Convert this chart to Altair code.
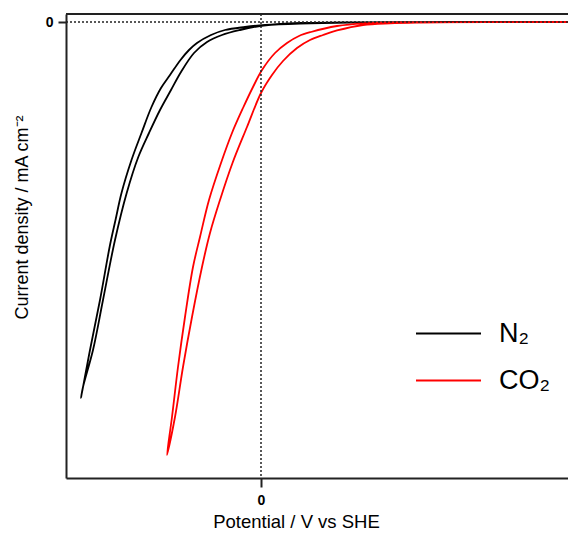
import altair as alt
import pandas as pd

# N2 voltammogram: outer sweep (down) and inner sweep (return); potential V vs SHE, current mA cm-2
n2_out_v = [1.535, 0.945, 0.445, 0.195, 0.02, -0.08, -0.18, -0.25, -0.32, -0.36, -0.4025, -0.455, -0.50,
            -0.5475, -0.5975, -0.6475, -0.6975, -0.7275, -0.755, -0.805, -0.855, -0.90]
n2_out_j = [0.0, 0.0, -0.00625, -0.01875, -0.0375, -0.0625, -0.10, -0.1625, -0.2625, -0.35, -0.475, -0.6625, -0.825,
            -1.0625, -1.3875, -1.725, -2.1375, -2.475, -2.7875, -3.475, -4.10, -4.70]
n2_in_v = [-0.89, -0.84, -0.79, -0.73, -0.6715, -0.6135, -0.56, -0.505, -0.45, -0.40, -0.335, -0.27, -0.195,
           -0.105, -0.005, 0.095, 0.195, 0.445, 0.945, 1.535]
n2_in_j = [-4.5625, -4.10, -3.475, -2.725, -2.1375, -1.6875, -1.3875, -1.10, -0.85, -0.625, -0.3875, -0.25, -0.1625,
           -0.10, -0.05, -0.025, -0.0125, -0.00375, 0.0, 0.0]

# CO2 voltammogram
co2_out_v = [1.535, 0.795, 0.51, 0.38, 0.25, 0.19, 0.13, 0.07, 0.005, -0.04, -0.09, -0.145, -0.20, -0.26, -0.305,
             -0.34, -0.38, -0.415, -0.445, -0.47]
co2_out_j = [0.0, -0.00375, -0.01625, -0.05, -0.125, -0.175, -0.2625, -0.3875, -0.60, -0.8125, -1.075, -1.3875,
             -1.7625, -2.225, -2.6875, -3.0625, -3.6875, -4.3125, -4.9375, -5.4125]
co2_in_v = [-0.43, -0.39, -0.345, -0.295, -0.255, -0.205, -0.1425, -0.07, 0.0, 0.055, 0.11, 0.18, 0.245, 0.31, 0.38,
            0.51, 0.645, 0.795, 1.095, 1.535]
co2_in_j = [-4.9375, -4.3125, -3.6875, -3.0625, -2.6375, -2.225, -1.7625, -1.3125, -0.8875, -0.6625, -0.4875, -0.325,
            -0.225, -0.1625, -0.106, -0.0375, -0.016, -0.0075, -0.0025, 0.0]

series = ["N₂", "CO₂"]
colors = ["#000000", "#ff0000"]

rows = []
for name, vs, js in [(series[0], n2_out_v + n2_in_v, n2_out_j + n2_in_j),
                     (series[1], co2_out_v + co2_in_v, co2_out_j + co2_in_j)]:
    for i, (v, j) in enumerate(zip(vs, js)):
        rows.append({"gas": name, "V": v, "j": j, "idx": i})
df = pd.DataFrame(rows)

FONT = "Liberation Sans"
W, H = 502, 464

xscale = alt.Scale(domain=[-0.975, 1.535], nice=False, zero=False)
yscale = alt.Scale(domain=[-5.7, 0.1], nice=False, zero=False)

curves = alt.Chart(df).mark_line(strokeWidth=1.8, clip=True, interpolate="catmull-rom").encode(
    x=alt.X("V:Q", scale=xscale, axis=alt.Axis(
        values=[0], format="d", grid=False, title="Potential / V vs SHE",
        labelFontWeight="bold", labelFontSize=14, labelPadding=6, labelFont=FONT,
        labelColor="#000",
        tickSize=9, tickWidth=2, tickColor="#222", domainWidth=2, domainColor="#222",
        titleFontSize=18.5, titleFontWeight="normal", titleFont=FONT, titleColor="#000",
        titleX=230, titleY=49, titleBaseline="alphabetic", titleAlign="center")),
    y=alt.Y("j:Q", scale=yscale, axis=alt.Axis(
        values=[0], format="d", grid=False, title="Current density / mA cm⁻²",
        labelFontWeight="bold", labelFontSize=14, labelPadding=5, labelFont=FONT,
        labelColor="#000",
        tickSize=8, tickWidth=2, tickColor="#222", domainWidth=2, domainColor="#222",
        titleFontSize=18, titleFontWeight="normal", titleFont=FONT, titleColor="#000",
        titleX=-44, titleY=203, titleAngle=270, titleAlign="center", titleBaseline="middle")),
    color=alt.Color("gas:N", scale=alt.Scale(domain=series, range=colors),
                    sort=series,
                    legend=alt.Legend(orient="none", legendX=349, legendY=286, title=None,
                                      symbolType="stroke", symbolSize=4225, symbolStrokeWidth=1.8,
                                      labelFontSize=27, labelOffset=17, labelFont=FONT,
                                      labelColor="#000", rowPadding=-20)),
    order="idx:Q",
)

zero_h = alt.Chart(pd.DataFrame({"j": [0.0]})).mark_rule(
    color="#222", strokeWidth=1.5, strokeDash=[2, 2]).encode(y=alt.Y("j:Q", scale=yscale))
zero_v = alt.Chart(pd.DataFrame({"V": [0.0]})).mark_rule(
    color="#222", strokeWidth=1.5, strokeDash=[2, 2]).encode(x=alt.X("V:Q", scale=xscale))
top = alt.Chart(pd.DataFrame({"a": [0]})).mark_rule(color="#222", strokeWidth=2).encode(
    x=alt.value(0), x2=alt.value(W), y=alt.value(0))

chart = alt.layer(curves, zero_h, zero_v, top).properties(
    width=W, height=H,
    autosize=alt.AutoSizeParams(type="none"),
    padding={"left": 58, "top": 6, "right": 0, "bottom": 54},
    background="white",
).configure_view(stroke=None)

chart.save("out.html", embed_options={"renderer": "svg", "actions": False})
